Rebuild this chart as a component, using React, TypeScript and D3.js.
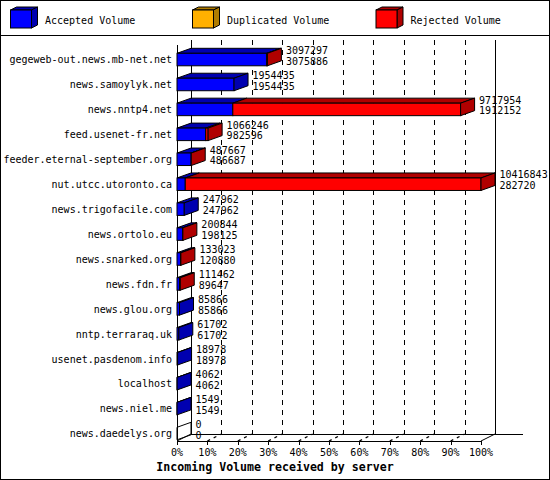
import { useEffect, useRef } from 'react'
import * as d3 from 'd3'

const servers = [
  'gegeweb-out.news.mb-net.net',
  'news.samoylyk.net',
  'news.nntp4.net',
  'feed.usenet-fr.net',
  'feeder.eternal-september.org',
  'nut.utcc.utoronto.ca',
  'news.trigofacile.com',
  'news.ortolo.eu',
  'news.snarked.org',
  'news.fdn.fr',
  'news.glou.org',
  'nntp.terraraq.uk',
  'usenet.pasdenom.info',
  'localhost',
  'news.niel.me',
  'news.daedelys.org',
]

// offered volume (upper label) and accepted volume (lower label)
const offered = [
  3097297, 1954435, 9717954, 1066246, 487667, 10416843, 247962, 200844, 133023, 111462, 85866,
  61702, 18978, 4062, 1549, 0,
]
const accepted = [
  3075886, 1954435, 1912152, 982596, 486687, 282720, 247962, 198125, 120880, 89647, 85866, 61702,
  18978, 4062, 1549, 0,
]
const duplicated = [0, 0, 0, 0, 0, 0, 0, 0, 0, 0, 0, 0, 0, 0, 0, 0]

const legendLabels = ['Accepted Volume', 'Duplicated Volume', 'Rejected Volume']
const pctTicks = [0, 0.1, 0.2, 0.3, 0.4, 0.5, 0.6, 0.7, 0.8, 0.9, 1]

const fills = ['#0000ff', '#ffb000', '#ff0000']
const darks = ['#0000b0', '#b07c00', '#b00000']
const mono = '"DejaVu Sans Mono", "Liberation Mono", monospace'

export default function App() {
  const ref = useRef<SVGSVGElement>(null)

  useEffect(() => {
    if (!ref.current) return
    const W = 550
    const H = 480

    d3.select(ref.current).selectAll('*').remove()
    const svg = d3
      .select(ref.current)
      .attr('width', W)
      .attr('height', H)
      .attr('viewBox', `0 0 ${W} ${H}`)
      .style('font-family', mono)

    svg.append('rect').attr('width', W).attr('height', H).attr('fill', '#fff')

    // geometry of the 3d box
    const front0 = 177
    const plotW = 304
    const floorDX = 14
    const floorDY = 7
    const frontFloor = 441
    const backFloor = frontFloor - floorDY
    const wallTop = 40
    const barDX = 14
    const barDY = 5

    const maxV = d3.max(offered)!
    const x = d3.scaleLinear().domain([0, maxV]).range([front0, front0 + plotW])
    const pct = d3.scaleLinear().domain([0, 1]).range([front0, front0 + plotW])
    const y = d3.scalePoint<string>().domain(servers).range([59.3, 433.3])

    const line = (x1: number, y1: number, x2: number, y2: number) =>
      svg
        .append('line')
        .attr('x1', x1)
        .attr('y1', y1)
        .attr('x2', x2)
        .attr('y2', y2)
        .attr('stroke', '#000')
        .attr('shape-rendering', 'crispEdges')

    // Legend
    line(0, 35.5, W, 35.5)
    const legX = [10.5, 192.5, 376]
    legendLabels.forEach((lab, i) => {
      const lx = legX[i]
      const ly = 10
      const w = 21
      const h = 18
      const dx = 6
      const dy = 3
      svg
        .append('polygon')
        .attr('points', `${lx},${ly} ${lx + w},${ly} ${lx + w + dx},${ly - dy} ${lx + dx},${ly - dy}`)
        .attr('fill', darks[i])
        .attr('stroke', '#000')
      svg
        .append('polygon')
        .attr('points', `${lx + w},${ly} ${lx + w + dx},${ly - dy} ${lx + w + dx},${ly + h - dy} ${lx + w},${ly + h}`)
        .attr('fill', darks[i])
        .attr('stroke', '#000')
      svg
        .append('rect')
        .attr('x', lx)
        .attr('y', ly)
        .attr('width', w)
        .attr('height', h)
        .attr('fill', fills[i])
        .attr('stroke', '#000')
      svg
        .append('text')
        .attr('x', lx + 34.5)
        .attr('y', 24)
        .attr('font-size', 10)
        .attr('fill', '#000')
        .text(lab)
    })

    // Back wall grid
    pctTicks.forEach((p, i) => {
      const bx = Math.round(pct(p) + floorDX) + 0.5
      const l = line(bx, wallTop, bx, backFloor)
      if (i > 0 && i < pctTicks.length - 1) l.attr('stroke-dasharray', '5,5')
    })

    // Floor
    line(front0 + floorDX, backFloor + 0.5, 523, backFloor + 0.5)
    line(front0, frontFloor + 0.5, pct(1), frontFloor + 0.5)
    pctTicks.forEach((p, i) => {
      const fx = pct(p)
      const l = svg
        .append('line')
        .attr('x1', fx)
        .attr('y1', frontFloor)
        .attr('x2', fx + floorDX)
        .attr('y2', backFloor)
        .attr('stroke', '#000')
      if (i > 0 && i < pctTicks.length - 1) l.attr('stroke-dasharray', '3,4').attr('stroke-width', 1.3)
      line(Math.round(fx) + 0.5, frontFloor, Math.round(fx) + 0.5, frontFloor + 4)
      svg
        .append('text')
        .attr('x', fx)
        .attr('y', 456)
        .attr('text-anchor', 'middle')
        .attr('font-size', 10)
        .text(`${Math.round(p * 100)}%`)
    })
    line(front0 + 0.5, 45, front0 + 0.5, frontFloor + 2)

    // Bars
    servers.forEach((name, i) => {
      const cy = y(name)!
      const top = cy - 6
      const bot = cy + 6.5
      const segs = [accepted[i], duplicated[i], offered[i] - accepted[i] - duplicated[i]]
      let cum = 0
      let lastDark = 'none'
      segs.forEach((v, k) => {
        if (v <= 0) return
        const x0 = x(cum)
        const x1 = x(cum + v)
        cum += v
        lastDark = darks[k]
        svg
          .append('polygon')
          .attr('points', `${x0},${top} ${x1},${top} ${x1 + barDX},${top - barDY} ${x0 + barDX},${top - barDY}`)
          .attr('fill', darks[k])
          .attr('stroke', '#000')
        svg
          .append('rect')
          .attr('x', x0)
          .attr('y', top)
          .attr('width', x1 - x0)
          .attr('height', bot - top)
          .attr('fill', fills[k])
          .attr('stroke', '#000')
      })
      const xe = x(cum)
      svg
        .append('polygon')
        .attr('points', `${xe},${top} ${xe + barDX},${top - barDY} ${xe + barDX},${bot - barDY} ${xe},${bot}`)
        .attr('fill', lastDark === 'none' ? '#fff' : lastDark)
        .attr('fill-opacity', lastDark === 'none' ? 0 : 1)
        .attr('stroke', '#000')

      // server name
      svg
        .append('text')
        .attr('x', 172)
        .attr('y', cy + 4)
        .attr('text-anchor', 'end')
        .attr('font-size', 10)
        .text(name)

      // values next to the bar
      const tx = x(offered[i]) + barDX + 4.5
      svg
        .append('text')
        .attr('x', tx)
        .attr('y', cy - 5.5)
        .attr('font-size', 10)
        .text(String(offered[i]))
      svg
        .append('text')
        .attr('x', tx)
        .attr('y', cy + 5.3)
        .attr('font-size', 10)
        .text(String(accepted[i]))
    })

    // Axis title
    svg
      .append('text')
      .attr('x', W / 2)
      .attr('y', 471)
      .attr('text-anchor', 'middle')
      .attr('font-size', 11.6)
      .attr('font-weight', 'bold')
      .text('Incoming Volume received by server')

    // Outer frame
    svg
      .append('rect')
      .attr('x', 0.5)
      .attr('y', 0.5)
      .attr('width', W - 1)
      .attr('height', H - 1)
      .attr('fill', 'none')
      .attr('stroke', '#000')
  }, [])

  return (
    <svg
      ref={ref}
      style={{ position: 'absolute', left: 0, top: 0, display: 'block' }}
    />
  )
}
